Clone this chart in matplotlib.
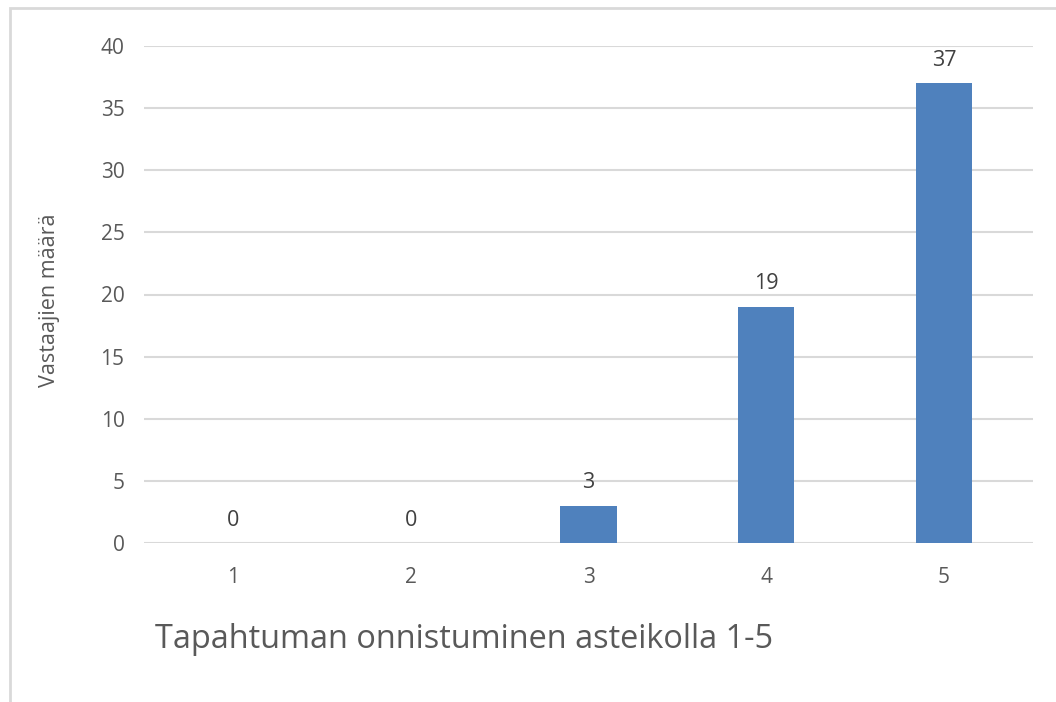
import matplotlib
matplotlib.use("Agg")
import matplotlib.pyplot as plt
from matplotlib.patches import Rectangle

categories = ["1", "2", "3", "4", "5"]
values = [0, 0, 3, 19, 37]
yticks = [0, 5, 10, 15, 20, 25, 30, 35, 40]
xlabel = "Tapahtuman onnistuminen asteikolla 1-5"
ylabel = "Vastaajien määrä"

plt.rcParams['font.family'] = ['Open Sans', 'DejaVu Sans']
W, H = 1056, 702
fig = plt.figure(figsize=(W / 100, H / 100), dpi=100)
fig.patch.set_facecolor("white")

# chart border
fig.add_artist(Rectangle((9.5 / W, -0.1), 1.2, 1 - 7.5 / H + 0.1, transform=fig.transFigure,
                         fill=False, edgecolor="#D9D9D9", linewidth=2))

left, right = 144 / W, 1033 / W
top, bottom = 1 - 46 / H, 1 - 543 / H
ax = fig.add_axes([left, bottom, right - left, top - bottom])
x = list(range(len(categories)))
bars = ax.bar(x, values, width=0.315, color="#4F81BD", zorder=3)
ax.set_xlim(-0.5, len(categories) - 0.5)
ax.set_ylim(0, 40)
ax.set_yticks(yticks)
ax.set_xticks(x)
ax.set_xticklabels(categories)
ax.yaxis.grid(True, color="#D9D9D9", linewidth=1.5, zorder=0)
ax.set_axisbelow(True)
for s in ax.spines.values():
    s.set_visible(False)
ax.tick_params(axis="both", length=0, labelsize=15, colors="#595959")
ax.tick_params(axis="y", pad=14)
ax.tick_params(axis="x", pad=17)

for xi, v in zip(x, values):
    ax.annotate(str(v), (xi, v), xytext=(0, 9), textcoords="offset points",
                ha="center", va="bottom", fontsize=15.5, color="#404040")

fig.text(155 / W, 1 - 640 / H, xlabel, ha="left", va="center", fontsize=23.4, color="#595959")
fig.text(50 / W, 1 - 300 / H, ylabel, ha="center", va="center", rotation=90,
         fontsize=15.5, color="#595959")

fig.savefig("out.png", dpi=100)
